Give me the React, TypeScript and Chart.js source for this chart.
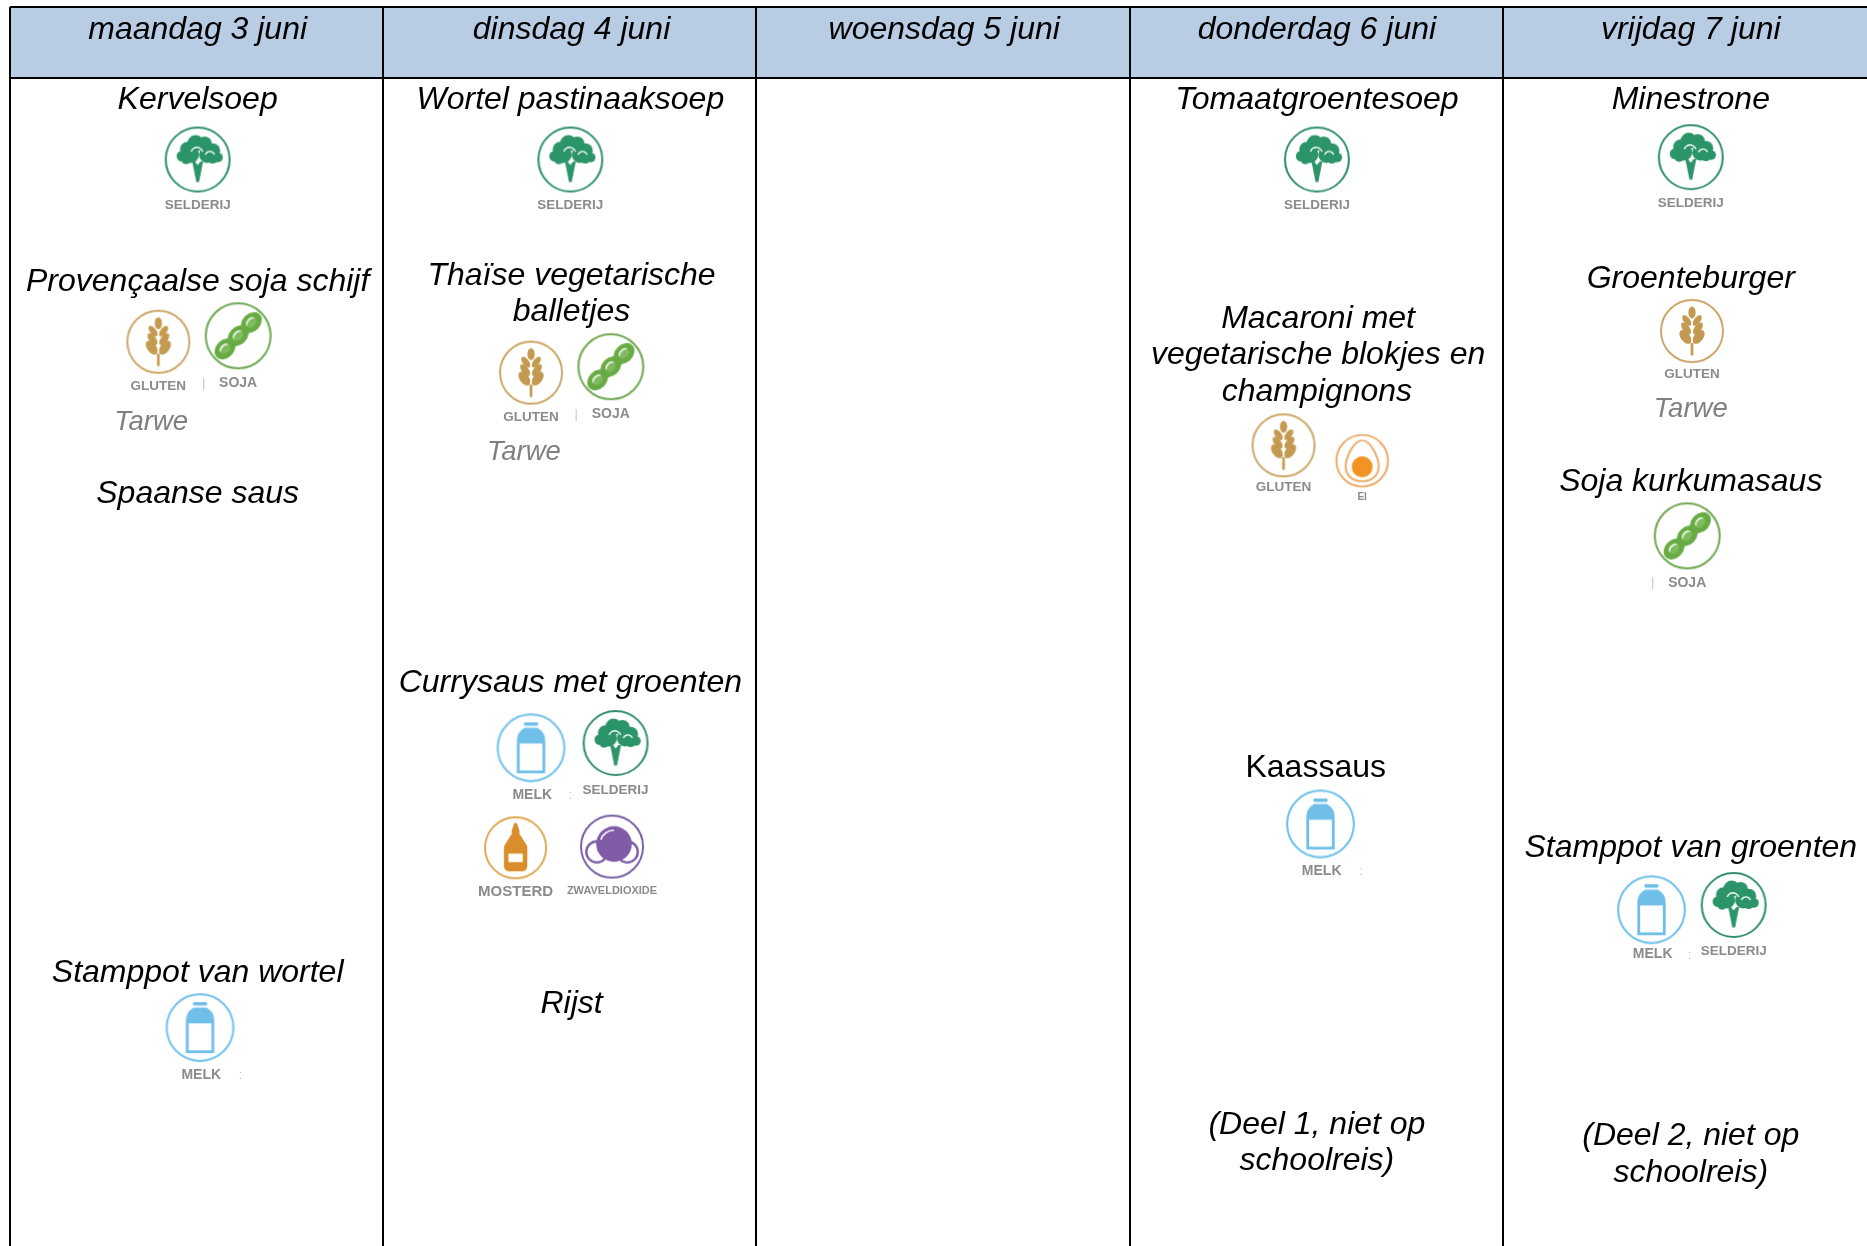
import React, { useEffect, useRef } from "react";
import { Chart, registerables } from "chart.js";

Chart.register(...registerables);

// Table geometry, in axis units
const columnEdges = [8.4, 322, 635, 949, 1262.5];
const headerRowEdges = [5.9, 65.5];
const columnCenters = [165.2, 478.5, 792, 1105.8, 1419.3];

const dayLabels = [
  { text: "maandag 3 juni", x: 166, y: 25 },
  { text: "dinsdag 4 juni", x: 480, y: 25 },
  { text: "woensdag 5 juni", x: 793, y: 25 },
  { text: "donderdag 6 juni", x: 1106, y: 25 },
  { text: "vrijdag 7 juni", x: 1420, y: 25 },
];

const dishLabels = [
  { text: "Kervelsoep", x: 166, y: 84 },
  { text: "Provençaalse soja schijf", x: 166, y: 237 },
  { text: "Spaanse saus", x: 166, y: 415 },
  { text: "Stamppot van wortel", x: 166, y: 817 },
  { text: "Wortel pastinaaksoep", x: 479, y: 84 },
  { text: "Thaïse vegetarische", x: 480, y: 232 },
  { text: "balletjes", x: 480, y: 262 },
  { text: "Currysaus met groenten", x: 479, y: 574 },
  { text: "Rijst", x: 480, y: 843 },
  { text: "Tomaatgroentesoep", x: 1106, y: 84 },
  { text: "Macaroni met", x: 1107, y: 268 },
  { text: "vegetarische blokjes en", x: 1107, y: 298 },
  { text: "champignons", x: 1106, y: 329 },
  { text: "(Deel 1, niet op", x: 1106, y: 945 },
  { text: "schoolreis)", x: 1106, y: 975 },
  { text: "Minestrone", x: 1420, y: 84 },
  { text: "Groenteburger", x: 1420, y: 234 },
  { text: "Soja kurkumasaus", x: 1420, y: 405 },
  { text: "Stamppot van groenten", x: 1420, y: 712 },
  { text: "(Deel 2, niet op", x: 1420, y: 954 },
  { text: "schoolreis)", x: 1420, y: 985 },
];

const plainDishLabels = [{ text: "Kaassaus", x: 1105, y: 645 }];

const grainLabels = [
  { text: "Tarwe", x: 127, y: 355 },
  { text: "Tarwe", x: 440, y: 380 },
  { text: "Tarwe", x: 1420, y: 344 },
];

const selderijPoints = [
  { x: 166, y: 134 },
  { x: 479, y: 134 },
  { x: 517, y: 624 },
  { x: 1106, y: 134 },
  { x: 1420, y: 132 },
  { x: 1456, y: 760 },
];
const selderijCaptions = [172.5, 172.5, 663.5, 172.5, 170.5, 798.5];

const glutenPoints = [
  { x: 133, y: 287 },
  { x: 446, y: 313 },
  { x: 1078, y: 374 },
  { x: 1421, y: 278 },
];
const glutenCaptions = [324.5, 350.5, 409.5, 314.5];

const sojaPoints = [
  { x: 200, y: 282 },
  { x: 513, y: 308 },
  { x: 1417, y: 450 },
];
const sojaCaptions = [321.5, 347.5, 489.5];

const melkPoints = [
  { x: 168, y: 863 },
  { x: 446, y: 628 },
  { x: 1109, y: 692 },
  { x: 1387, y: 764 },
];
const melkCaptions = [902.5, 667.5, 731.5, 801.5];

const mosterdPoints = [{ x: 433, y: 712 }];
const mosterdCaptions = [749];
const zwavelPoints = [{ x: 514, y: 711 }];
const zwavelCaptions = [748];
const eiPoints = [{ x: 1144, y: 387 }];
const eiCaptions = [418];

const separators = [
  { text: "|", x: 171, y: 322 },
  { text: "|", x: 484, y: 348 },
  { text: "|", x: 1388, y: 489 },
  { text: ":", x: 202, y: 903 },
  { text: ":", x: 479, y: 668 },
  { text: ":", x: 1143, y: 732 },
  { text: ":", x: 1419, y: 802 },
];

type Painter = (c: CanvasRenderingContext2D) => void;

function ring(c: CanvasRenderingContext2D, color: string, r = 47, w = 3) {
  c.strokeStyle = color;
  c.lineWidth = w;
  c.beginPath();
  c.arc(0, 0, r, 0, Math.PI * 2);
  c.stroke();
}
function disc(c: CanvasRenderingContext2D, x: number, y: number, r: number) {
  c.beginPath();
  c.arc(x, y, r, 0, Math.PI * 2);
  c.fill();
}
function poly(c: CanvasRenderingContext2D, pts: number[][]) {
  c.beginPath();
  pts.forEach(([x, y], i) => (i ? c.lineTo(x, y) : c.moveTo(x, y)));
  c.closePath();
  c.fill();
}
function oval(c: CanvasRenderingContext2D, x: number, y: number, a: number, b: number, rot: number) {
  c.beginPath();
  c.ellipse(x, y, a, b, rot, 0, Math.PI * 2);
  c.fill();
}

const paintSelderij: Painter = (c) => {
  ring(c, "#2f8f6a");
  c.fillStyle = "#2b9468";
  [
    [-3, -24, 12],
    [10, -23, 11],
    [-15, -15, 11],
    [22, -13, 11],
    [-23, -5, 8],
    [30, -3, 7],
    [-10, -7, 12],
    [14, -7, 12],
    [22, -2, 8],
    [-17, 0, 7],
  ].forEach(([x, y, r]) => disc(c, x, y, r));
  poly(c, [[-8, 3], [-4, 3], [0, 8], [4, 3], [8, 3], [2, 33], [-2, 33]]);
  c.strokeStyle = "#ffffff";
  c.lineWidth = 2;
  c.beginPath();
  c.arc(-1, -9, 9, Math.PI * 1.1, Math.PI * 1.9);
  c.stroke();
  c.beginPath();
  c.arc(18, -5, 7, Math.PI * 1.1, Math.PI * 1.9);
  c.stroke();
};

const paintGluten: Painter = (c) => {
  ring(c, "#cda768");
  c.fillStyle = "#c39a4f";
  oval(c, 0, -28, 5.5, 9, 0);
  [
    [-16, 8, 9.5, 4.8],
    [-4, 9, 10.5, 5.2],
    [9, 10, 12, 7],
  ].forEach(([y, dx, a, b]) => {
    oval(c, -dx, y, a, b, Math.PI / 3.4);
    oval(c, dx, y, a, b, -Math.PI / 3.4);
  });
  c.strokeStyle = "#ffffff";
  c.lineWidth = 1.8;
  c.beginPath();
  c.moveTo(0, -18);
  c.lineTo(0, 20);
  c.stroke();
  c.fillStyle = "#c39a4f";
  c.fillRect(-2, 18, 4, 19);
};

const paintSoja: Painter = (c) => {
  ring(c, "#72a955");
  c.save();
  c.rotate(-Math.PI / 4);
  c.fillStyle = "#68ab44";
  [-27, 0, 27].forEach((x) => oval(c, x, 0, 17, 13, 0));
  c.fillStyle = "#e4f0dc";
  [-27, 0, 27].forEach((x) => oval(c, x, -2, 8, 5, 0));
  c.fillStyle = "#7fbb5e";
  [-27, 0, 27].forEach((x) => oval(c, x, 1, 8, 5, 0));
  c.restore();
};

const paintMelk: Painter = (c) => {
  ring(c, "#76c4ea");
  c.fillStyle = "#6fbfe8";
  c.beginPath();
  c.roundRect(-10, -36, 20, 5, 2);
  c.fill();
  c.beginPath();
  c.moveTo(-9, -28);
  c.lineTo(9, -28);
  c.quadraticCurveTo(20, -22, 20, -10);
  c.lineTo(20, 36);
  c.lineTo(-20, 36);
  c.lineTo(-20, -10);
  c.quadraticCurveTo(-20, -22, -9, -28);
  c.closePath();
  c.fill();
  c.fillStyle = "#ffffff";
  c.fillRect(-16, -6, 32, 38);
};

const paintMosterd: Painter = (c) => {
  ring(c, "#e0a64f");
  c.fillStyle = "#d98d2b";
  poly(c, [[-2, -38], [2, -38], [6, -26], [6, -18], [-6, -18], [-6, -26]]);
  c.beginPath();
  c.roundRect(-18, -8, 36, 44, 8);
  c.fill();
  poly(c, [[-7, -20], [7, -20], [17, -4], [-17, -4]]);
  c.fillStyle = "#ffffff";
  c.fillRect(-11, 9, 22, 13);
};

const paintZwavel: Painter = (c) => {
  ring(c, "#7a60a5");
  c.strokeStyle = "#7a5ca6";
  c.lineWidth = 3.5;
  c.fillStyle = "#ffffff";
  [[-23, 8, 16], [23, 8, 16]].forEach(([x, y, r]) => {
    c.beginPath();
    c.arc(x, y, r, 0, Math.PI * 2);
    c.fill();
    c.stroke();
  });
  c.fillStyle = "#7f5ba8";
  disc(c, 3, -4, 27);
  c.strokeStyle = "#ffffff";
  c.lineWidth = 2.5;
  c.beginPath();
  c.arc(3, -4, 21, Math.PI * 1.1, Math.PI * 1.5);
  c.stroke();
};

const paintEi: Painter = (c) => {
  ring(c, "#eaaa64", 47, 3.5);
  c.strokeStyle = "#eaaa64";
  c.lineWidth = 3.5;
  c.beginPath();
  c.moveTo(0, -37);
  c.bezierCurveTo(17, -37, 30, -4, 30, 10);
  c.bezierCurveTo(30, 28, 16, 37, 0, 37);
  c.bezierCurveTo(-16, 37, -30, 28, -30, 10);
  c.bezierCurveTo(-30, -4, -17, -37, 0, -37);
  c.stroke();
  c.fillStyle = "#f39422";
  disc(c, 0, 11, 19);
};

function makeIcon(paint: Painter, diameter: number) {
  const size = Math.ceil(diameter + 6);
  const cv = document.createElement("canvas");
  cv.width = size;
  cv.height = size;
  const c = cv.getContext("2d")!;
  c.filter = "blur(0.5px)";
  c.translate(size / 2, size / 2);
  c.scale(diameter / 100, diameter / 100);
  paint(c);
  return cv;
}

export default function App() {
  const ref = useRef<HTMLCanvasElement>(null);
  useEffect(() => {
    const captionSets = [
      { text: "SELDERIJ", pts: selderijPoints, ys: selderijCaptions, size: 13.5 },
      { text: "GLUTEN", pts: glutenPoints, ys: glutenCaptions, size: 13.5 },
      { text: "SOJA", pts: sojaPoints, ys: sojaCaptions, size: 14 },
      { text: "MELK", pts: melkPoints, ys: melkCaptions, size: 14 },
      { text: "MOSTERD", pts: mosterdPoints, ys: mosterdCaptions, size: 15 },
      { text: "ZWAVELDIOXIDE", pts: zwavelPoints, ys: zwavelCaptions, size: 11 },
      { text: "EI", pts: eiPoints, ys: eiCaptions, size: 10 },
    ];

    const tableText = {
      id: "tableText",
      afterDatasetsDraw(chart: any) {
        const { ctx, scales } = chart;
        const put = (list: any[], font: string, color: string) => {
          ctx.font = font;
          ctx.fillStyle = color;
          list.forEach((l) =>
            ctx.fillText(l.text, scales.x.getPixelForValue(l.x), scales.y.getPixelForValue(l.y))
          );
        };
        ctx.save();
        ctx.textAlign = "center";
        ctx.textBaseline = "middle";
        const italic = 'italic 32px "Liberation Sans"';
        put(dayLabels, italic, "#000000");
        put(dishLabels, italic, "#000000");
        put(plainDishLabels, '32px "Liberation Sans"', "#000000");
        put(grainLabels, 'italic 27.5px "Liberation Sans"', "#808080");
        put(separators, '13px "Liberation Sans"', "#c8c8c8");
        captionSets.forEach((s) => {
          const list = s.pts.map((p, i) => ({
            text: s.text,
            x: p.x + (s.text === "MELK" ? 1 : 0),
            y: s.ys[i],
          }));
          put(list, `bold ${s.size}px "Liberation Sans"`, "#8b8b8f");
        });
        ctx.restore();
      },
    };

    const icon = (label: string, data: any[], paint: Painter, d: number) => ({
      type: "scatter" as const,
      label,
      data,
      pointStyle: makeIcon(paint, d),
      pointRadius: d / 2,
      showLine: false,
    });

    const chart = new Chart(ref.current!, {
      type: "bar",
      data: {
        datasets: [
          {
            type: "bar",
            label: "kop",
            data: columnCenters.map((x) => ({ x, y: headerRowEdges })) as any,
            backgroundColor: "#b8cce4",
            barPercentage: 1,
            categoryPercentage: 1,
            borderWidth: 0,
          },
          icon("selderij", selderijPoints, paintSelderij, 68),
          icon("gluten", glutenPoints, paintGluten, 66),
          icon("soja", sojaPoints, paintSoja, 69),
          icon("melk", melkPoints, paintMelk, 71),
          icon("mosterd", mosterdPoints, paintMosterd, 65),
          icon("zwavel", zwavelPoints, paintZwavel, 66),
          icon("ei", eiPoints, paintEi, 55),
        ] as any,
      },
      options: {
        responsive: false,
        animation: false,
        devicePixelRatio: 1,
        layout: { autoPadding: false, padding: { left: 10, top: 7, right: 0, bottom: 0 } },
        plugins: { legend: { display: false }, tooltip: { enabled: false } },
        scales: {
          x: {
            type: "linear",
            min: columnEdges[0],
            max: 1568,
            offset: false,
            border: { display: false },
            afterBuildTicks: (s: any) => {
              s.ticks = columnEdges.map((value) => ({ value }));
            },
            ticks: { display: false, autoSkip: false },
            grid: { color: "#000000", lineWidth: 2, drawTicks: false, z: 1, offset: false },
          },
          y: {
            type: "linear",
            reverse: true,
            min: headerRowEdges[0],
            max: 1046.4,
            border: { display: false },
            afterBuildTicks: (s: any) => {
              s.ticks = headerRowEdges.map((value) => ({ value }));
            },
            ticks: { display: false, autoSkip: false },
            grid: { color: "#000000", lineWidth: 2, drawTicks: false, z: 1, offset: false },
          },
        },
      },
      plugins: [tableText],
    } as any);
    return () => chart.destroy();
  }, []);
  return (
    <canvas
      ref={ref}
      width={1867}
      height={1246}
      style={{ position: "absolute", left: 0, top: 0, display: "block", background: "#ffffff" }}
    />
  );
}
